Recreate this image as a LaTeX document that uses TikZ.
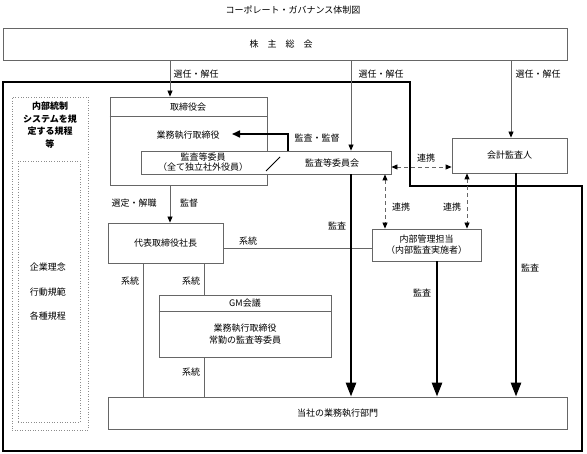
\documentclass[tikz,border=0pt]{standalone}
\usepackage{fontspec}
\setmainfont{Noto Sans CJK JP}
\usetikzlibrary{arrows.meta}
\begin{document}
\begin{tikzpicture}[x=1pt,y=-1pt,
  lbl/.style={font=\fontsize{9}{11}\selectfont, text=black, inner sep=0pt},
  box/.style={draw=black!60, line width=0.8pt, fill=white, inner sep=0pt, rectangle, font=\fontsize{9}{11}\selectfont, text=black},
  dotbox/.style={draw=black!45, line width=0.6pt, dotted, inner sep=0pt, rectangle},
  frame/.style={draw=black, line width=1.2pt},
  thinarr/.style={draw=black!60, line width=0.8pt, -{Triangle[width=5pt,length=6pt,color=black]}},
  thickarr/.style={draw=black, line width=2.6pt, -{Triangle[width=10pt,length=14pt]}},
  midarr/.style={draw=black, line width=1.6pt, -{Triangle[width=7pt,length=8pt]}},
  dasharr/.style={draw=black!60, line width=0.8pt, dash pattern=on 4pt off 3pt, {Triangle[width=5pt,length=6pt,color=black]}-{Triangle[width=5pt,length=6pt,color=black]}},
  thinline/.style={draw=black!60, line width=0.8pt}]
\useasboundingbox (0,0) rectangle (587,454);

% title
\node[lbl] (title) at (293,10) {コーポレート・ガバナンス体制図};

% outer frame
\draw[frame] (3,82) -- (410,82) -- (410,186) -- (582,186) -- (582,451) -- (3,451) -- cycle;

% shareholders meeting
\node[box, minimum width=564pt, minimum height=32pt] (kabu) at (285,44) {};
\node[lbl] (kabut) at (281,44) {株　主　総　会};

% internal control regulations
\node[dotbox, minimum width=76pt, minimum height=333pt] (reg) at (50,263.5) {};
\node[dotbox, minimum width=62pt, minimum height=261pt] (regin) at (49,291.5) {};
\node[lbl, align=center, font=\bfseries\fontsize{9}{12.6}\selectfont] (regt) at (50,125) {内部統制\\システムを規\\定する規程\\等};
\node[lbl] (r1) at (48,267) {企業理念};
\node[lbl] (r2) at (48,292) {行動規範};
\node[lbl] (r3) at (48,316) {各種規程};

% board of directors
\node[box, minimum width=157pt, minimum height=88pt] (tor) at (188.5,141) {};
\coordinate (h1) at (0,116);
\draw[thinline] (tor.west |- h1) -- (tor.east |- h1);
\node[lbl] (tort) at (188,107) {取締役会};
\node[lbl] (gyo) at (188,135) {業務執行取締役};

% audit & supervisory committee (long box)
\node[box, minimum width=250pt, minimum height=23pt] (kb) at (266,162.5) {};
\node[lbl, align=center, font=\fontsize{9}{10.5}\selectfont] (kbin) at (203,162) {監査等委員\\（全て独立社外役員）};
\node[lbl] (kbc) at (332,163) {監査等委員会};
\coordinate (s1) at (266,171);
\coordinate (s2) at (280,157);
\draw[thinline, draw=black] (s1) -- (s2);

% accounting auditor
\node[box, minimum width=115pt, minimum height=35pt] (kai) at (509.5,155.5) {会計監査人};

% president
\node[box, minimum width=115pt, minimum height=40pt] (dai) at (165.5,243) {代表取締役社長};

% internal management
\node[box, minimum width=109pt, minimum height=32pt, align=center, font=\fontsize{9}{11}\selectfont] (nai) at (426.5,245) {内部管理担当\\（内部監査実施者）};

% GM meeting
\node[box, minimum width=172pt, minimum height=62pt] (gm) at (245,326) {};
\coordinate (h2) at (0,311);
\draw[thinline] (gm.west |- h2) -- (gm.east |- h2);
\node[lbl] (gmt) at (245,303) {GM会議};
\node[lbl, align=center, font=\fontsize{9}{12}\selectfont] (gmb) at (245,334) {業務執行取締役\\常勤の監査等委員};

% business execution departments
\node[box, minimum width=459pt, minimum height=32pt] (gyomu) at (337.5,413) {当社の業務執行部門};

% column coordinates
\coordinate (c1) at (170,0);
\coordinate (c2) at (351,0);
\coordinate (c3) at (511,0);
\coordinate (c4) at (143,0);
\coordinate (c5) at (204,0);
\coordinate (c6) at (437,0);
\coordinate (c7) at (516,0);
\coordinate (c8) at (385,0);
\coordinate (c9) at (467,0);
\coordinate (r248) at (0,248);
\coordinate (r167) at (0,167);
\coordinate (m1) at (288,134);
\coordinate (m2) at (232,134);

% election / dismissal
\draw[thinarr] (kabu.south -| c1) -- (tor.north -| c1);
\draw[thinarr] (kabu.south -| c2) -- (kb.north -| c2);
\draw[thinarr] (kabu.south -| c3) -- (kai.north -| c3);
\node[lbl] (e1) at (196,74) {選任・解任};
\node[lbl] (e2) at (381,74) {選任・解任};
\node[lbl] (e3) at (538,74) {選任・解任};

% audit & supervision arrow
\draw[midarr] (kb.north -| m1) -- (m1) -- (m2);
\node[lbl] (ms) at (317,138) {監査・監督};

% board -> president
\draw[thinarr] (tor.south -| c1) -- (dai.north -| c1);
\node[lbl] (sel) at (134,203) {選定・解職};
\node[lbl] (sup) at (189,203) {監督};

% reporting lines
\draw[thinline] (dai.east |- r248) -- (nai.west |- r248);
\node[lbl] (k1) at (248,241) {系統};
\draw[thinline] (dai.south -| c4) -- (gyomu.north -| c4);
\node[lbl] (k2) at (130,281) {系統};
\draw[thinline] (dai.south -| c5) -- (gm.north -| c5);
\node[lbl] (k3) at (191,281) {系統};
\draw[thinline] (gm.south -| c5) -- (gyomu.north -| c5);
\node[lbl] (k4) at (191,372) {系統};

% audits (thick)
\draw[thickarr] (kb.south -| c2) -- (gyomu.north -| c2);
\node[lbl] (a1) at (337,226) {監査};
\draw[thickarr] (nai.south -| c6) -- (gyomu.north -| c6);
\node[lbl] (a2) at (422,293) {監査};
\draw[thickarr] (kai.south -| c7) -- (gyomu.north -| c7);
\node[lbl] (a3) at (530,268) {監査};

% cooperation (dashed)
\draw[dasharr] (kb.east |- r167) -- (kai.west |- r167);
\node[lbl] (d1) at (426,158) {連携};
\draw[dasharr] (kb.south -| c8) -- (nai.north -| c8);
\node[lbl] (d2) at (401,207) {連携};
\draw[dasharr] (kai.south -| c9) -- (nai.north -| c9);
\node[lbl] (d3) at (452,207) {連携};
\end{tikzpicture}
\end{document}
